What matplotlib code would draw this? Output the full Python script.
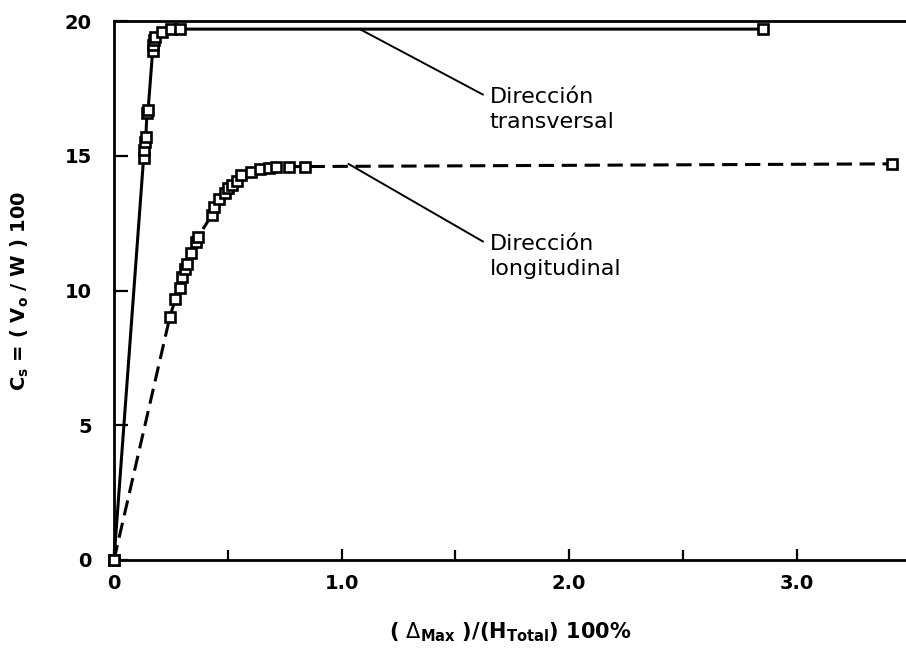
import matplotlib
matplotlib.use("Agg")
from matplotlib import pyplot as plt
from matplotlib.ticker import MultipleLocator, FixedLocator

# Direccion transversal (solid)
trans_x = [0.0, 0.13, 0.13, 0.135, 0.14, 0.145, 0.15, 0.17, 0.17, 0.175, 0.18, 0.21, 0.25, 0.29, 2.85]
trans_y = [0.0, 14.9, 15.2, 15.5, 15.7, 16.6, 16.7, 18.9, 19.1, 19.3, 19.4, 19.6, 19.7, 19.7, 19.7]

# Direccion longitudinal (dashed)
long_x = [0.0, 0.245, 0.27, 0.29, 0.3, 0.31, 0.32, 0.34, 0.36, 0.37, 0.43, 0.44, 0.46, 0.49,
          0.5, 0.52, 0.54, 0.56, 0.6, 0.64, 0.68, 0.71, 0.77, 0.84, 3.42]
long_y = [0.0, 9.0, 9.7, 10.1, 10.5, 10.8, 11.0, 11.4, 11.8, 12.0, 12.8, 13.1, 13.4, 13.6,
          13.8, 13.9, 14.05, 14.3, 14.4, 14.5, 14.55, 14.6, 14.6, 14.6, 14.7]

x_ticks = [0, 1.0, 2.0, 3.0]
x_tick_labels = ["0", "1.0", "2.0", "3.0"]
y_ticks = [0, 5, 10, 15, 20]

plt.rcParams['font.family'] = ['DejaVu Sans']

fig = plt.figure(figsize=(9.06, 6.61), dpi=100)
ax = fig.add_axes([0.1258, 0.1528, 0.8742, 0.8154])

ax.plot(trans_x, trans_y, '-', color='black', lw=2.2,
        marker='s', ms=7.5, mfc='white', mec='black', mew=1.9, clip_on=False, zorder=3)
ax.plot(long_x, long_y, '--', color='black', lw=2.2, dashes=(5, 2.5),
        marker='s', ms=7.5, mfc='white', mec='black', mew=1.9, clip_on=False, zorder=3)

ax.set_xlim(0, 3.48)
ax.set_ylim(0, 20)

ax.spines['right'].set_visible(False)
for s in ['left', 'bottom', 'top']:
    ax.spines[s].set_linewidth(2.0)

ax.xaxis.set_major_locator(FixedLocator(x_ticks))
ax.set_xticklabels(x_tick_labels)
ax.xaxis.set_minor_locator(MultipleLocator(0.5))
ax.yaxis.set_major_locator(FixedLocator(y_ticks))
ax.tick_params(axis='both', which='both', direction='in', width=1.6)
ax.tick_params(axis='x', which='major', length=8, pad=10, labelsize=14)
ax.tick_params(axis='x', which='minor', length=7)
ax.tick_params(axis='y', which='major', length=10, pad=16, labelsize=14)
for lab in ax.get_xticklabels() + ax.get_yticklabels():
    lab.set_fontweight('bold')

ax.set_xlabel(r'( $\Delta_{\mathbf{Max}}$ )/(H$_{\mathbf{Total}}$) 100%', fontsize=15,
              fontweight='bold', labelpad=20)
ax.set_ylabel(r'C$_{\mathbf{s}}$ = ( V$_{\mathbf{o}}$ / W ) 100', fontsize=14,
              fontweight='bold', labelpad=24)

# leader lines with labels
ax.annotate('Dirección\ntransversal', xy=(1.08, 19.7), xytext=(1.65, 17.55),
            fontsize=16, va='top', ha='left', linespacing=1.3,
            arrowprops=dict(arrowstyle='-', lw=1.4, color='black', relpos=(0, 0.76),
                            connectionstyle='angle,angleA=0,angleB=-28,rad=0',
                            shrinkA=3, shrinkB=0))
ax.annotate('Dirección\nlongitudinal', xy=(1.03, 14.7), xytext=(1.65, 12.1),
            fontsize=16, va='top', ha='left', linespacing=1.3,
            arrowprops=dict(arrowstyle='-', lw=1.4, color='black', relpos=(0, 0.76),
                            connectionstyle='angle,angleA=0,angleB=-30,rad=0',
                            shrinkA=3, shrinkB=0))

fig.savefig('out.png', dpi=100)
